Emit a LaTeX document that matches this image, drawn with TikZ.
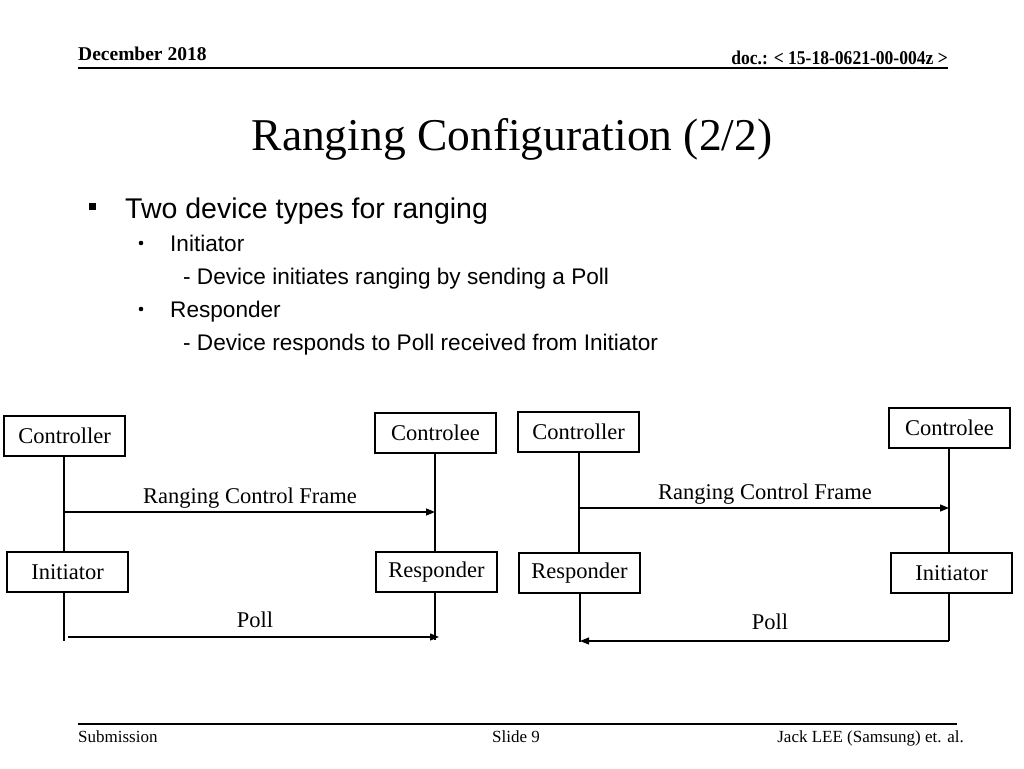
\documentclass[tikz,border=0pt]{standalone}
\usepackage{fontspec}
\setmainfont{Liberation Serif}
\newfontfamily\arial{Liberation Sans}
\usetikzlibrary{arrows.meta}
\begin{document}
\begin{tikzpicture}[x=1pt,y=-1pt,
  box/.style={draw,line width=1.2pt,minimum width=121pt,minimum height=40pt,inner sep=0pt,font=\fontsize{22.5}{24}\selectfont},
  life/.style={line width=1.3pt},
  msg/.style={line width=1.3pt,-{Triangle[length=9pt,width=7pt]}},
  lbl/.style={font=\fontsize{22.5}{24}\selectfont},
  bul/.style={anchor=base west,inner sep=0pt,font=\arial\fontsize{22.6}{24}\selectfont},
  hdr/.style={inner sep=0pt,font=\bfseries\fontsize{19.5}{22}\selectfont},
  ftr/.style={inner sep=0pt,font=\fontsize{17}{19}\selectfont}]
\useasboundingbox (0,0) rectangle (1024,768);
% header
\node[anchor=base west,hdr] (date) at (78,60) {December 2018};
\node[anchor=base east,hdr] (doc) at (948,64) {\scalebox{0.9}[1]{doc.: < 15-18-0621-00-004z >}};
\draw[line width=1.2pt] (78,68) -- (948,68);
% title
\node[font=\fontsize{45.5}{50}\selectfont] (title) at (512,139) {Ranging Configuration (2/2)};
% bullets
\node[anchor=center,inner sep=0pt] (sq) at (92,206) {\rule{7pt}{7pt}};
\node[anchor=base west,inner sep=0pt,font=\arial\fontsize{28.5}{30}\selectfont] (b1) at (125,218) {Two device types for ranging};
\node[anchor=center,inner sep=0pt] (d1) at (141,243) {\tikz\fill (0,0) circle (2.3pt);};
\node[bul] (b2) at (170,251) {Initiator};
\node[bul] (b3) at (183,284) {- Device initiates ranging by sending a Poll};
\node[anchor=center,inner sep=0pt] (d2) at (141,309) {\tikz\fill (0,0) circle (2.3pt);};
\node[bul] (b4) at (170,317) {Responder};
\node[bul] (b5) at (183,350) {- Device responds to Poll received from Initiator};
% left diagram
\node[box] (lc) at (64.5,436) {Controller};
\node[box] (lce) at (435.5,433) {Controlee};
\node[box] (li) at (67.5,572) {Initiator};
\node[box] (lr) at (436.5,572) {Responder};
\draw[life] (64,456) -- (64,552);
\draw[life] (435,453) -- (435,552);
\coordinate (la1) at (64,512); \coordinate (la2) at (435,512);
\draw[msg] (la1) -- (la2);
\node[lbl] (lrcf) at (250,498) {Ranging Control Frame};
\draw[life] (64,592) -- (64,641);
\draw[life] (435,592) -- (435,640);
\coordinate (lp1) at (68,637); \coordinate (lp2) at (439,637);
\draw[msg] (lp1) -- (lp2);
\node[lbl] (lpoll) at (255,620) {Poll};
% right diagram
\node[box] (rc) at (578.5,432) {Controller};
\node[box] (rce) at (949.5,428) {Controlee};
\node[box] (rr) at (579.5,573) {Responder};
\node[box] (ri) at (951.5,573) {Initiator};
\draw[life] (579,452) -- (579,553);
\draw[life] (949,448) -- (949,553);
\coordinate (ra1) at (579,508); \coordinate (ra2) at (949,508);
\draw[msg] (ra1) -- (ra2);
\node[lbl] (rrcf) at (765,494) {Ranging Control Frame};
\draw[life] (580,593) -- (580,642);
\draw[life] (949,593) -- (949,641);
\coordinate (rp1) at (949,641); \coordinate (rp2) at (580,641);
\draw[msg] (rp1) -- (rp2);
\node[lbl] (rpoll) at (770,622) {Poll};
% footer
\draw[line width=1.2pt] (78,724) -- (957,724);
\node[anchor=base west,ftr] (sub) at (78,742) {Submission};
\node[anchor=base,ftr] (slide) at (516,742) {Slide 9};
\node[anchor=base east,ftr] (auth) at (964,742) {Jack LEE (Samsung) et. al.};
\end{tikzpicture}
\end{document}
